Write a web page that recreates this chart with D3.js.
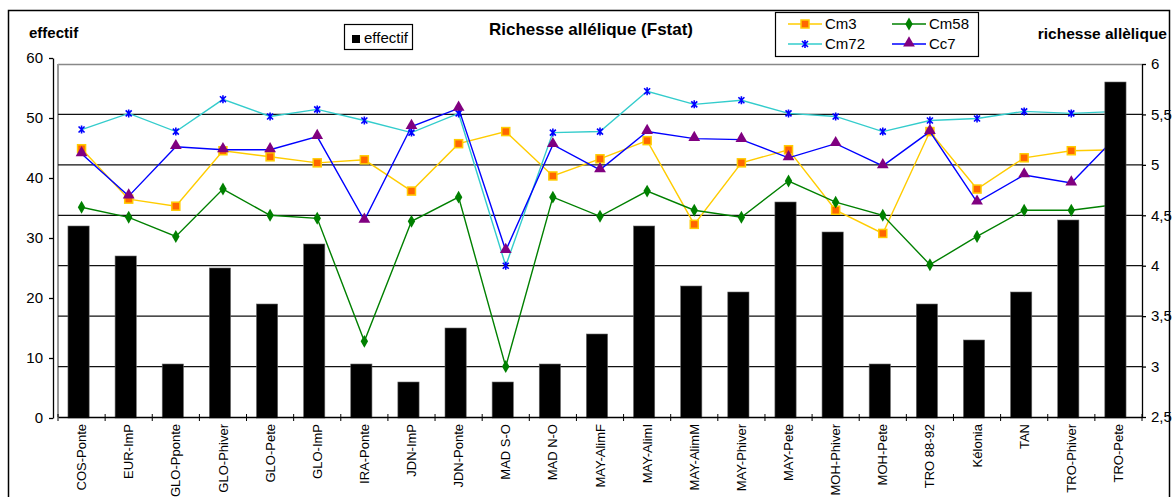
<!DOCTYPE html>
<html>
<head>
<meta charset="utf-8">
<script src="https://cdn.jsdelivr.net/npm/d3@7"></script>
<style>
  body { margin: 0; background: #fff; }
  text { font-family: Arial, "Liberation Sans", sans-serif; }
</style>
</head>
<body>
<div id="container"></div>
<script>
var categories = ["COS-Ponte", "EUR-ImP", "GLO-Pponte", "GLO-Phiver", "GLO-Pete", "GLO-ImP", "IRA-Ponte",
  "JDN-ImP", "JDN-Ponte", "MAD S-O", "MAD N-O", "MAY-AlimF", "MAY-AlimI", "MAY-AlimM", "MAY-Phiver",
  "MAY-Pete", "MOH-Phiver", "MOH-Pete", "TRO 88-92", "Kélonia", "TAN", "TRO-Phiver", "TRO-Pete"];
var effectif = [32, 27, 9, 25, 19, 29, 9, 6, 15, 6, 9, 14, 32, 22, 21, 36, 31, 9, 19, 13, 21, 33, 56];
var cm3  = [5.16, 4.66, 4.59, 5.14, 5.08, 5.02, 5.05, 4.74, 5.21, 5.33, 4.89, 5.06, 5.24, 4.41, 5.02, 5.15, 4.55, 4.32, 5.33, 4.76, 5.07, 5.14, 5.15];
var cm58 = [4.58, 4.48, 4.29, 4.76, 4.50, 4.47, 3.25, 4.44, 4.68, 3.00, 4.68, 4.49, 4.74, 4.55, 4.48, 4.84, 4.63, 4.50, 4.01, 4.29, 4.55, 4.55, 4.61];
var cm72 = [5.35, 5.51, 5.33, 5.65, 5.48, 5.55, 5.44, 5.32, 5.51, 4.00, 5.32, 5.33, 5.73, 5.60, 5.64, 5.51, 5.48, 5.33, 5.44, 5.46, 5.53, 5.51, 5.53];
var cc7  = [5.11, 4.69, 5.18, 5.15, 5.15, 5.28, 4.45, 5.38, 5.56, 4.15, 5.20, 4.95, 5.33, 5.26, 5.25, 5.07, 5.21, 4.99, 5.33, 4.63, 4.90, 4.82, 5.30];
var leftTicks = [0, 10, 20, 30, 40, 50, 60];
var rightTicks = [2.5, 3, 3.5, 4, 4.5, 5, 5.5, 6];

var width = 1173;
var height = 497;
var svg = d3.select("#container").append("svg");
svg.attr("width", width).attr("height", height);

var x = d3.scaleBand().domain(categories).range([58, 1142]);
var yLeft = d3.scaleLinear().domain([0, 60]).range([418, 58]);
var yRight = d3.scaleLinear().domain([2.5, 6]).range([417, 64]);

// plot area border (grey) and grid lines
svg.append("line").attr("x1", 58).attr("x2", 1142).attr("y1", 64.5).attr("y2", 64.5)
  .attr("stroke", "#888").attr("stroke-width", 1.5);
svg.append("line").attr("x1", 58).attr("x2", 58).attr("y1", 64).attr("y2", 417)
  .attr("stroke", "#999").attr("stroke-width", 2);

svg.append("g").selectAll("line")
  .data(rightTicks.filter(function(d) { return d > 2.5 && d < 6; }))
  .enter().append("line")
  .attr("x1", 58).attr("x2", 1142)
  .attr("y1", function(d) { return yRight(d); })
  .attr("y2", function(d) { return yRight(d); })
  .attr("stroke", "#111").attr("stroke-width", 1.2);

// series lines
var series = [
  {name: "Cm3", values: cm3, line: "#FFCC00", marker: "square"},
  {name: "Cm58", values: cm58, line: "#008000", marker: "diamond"},
  {name: "Cm72", values: cm72, line: "#33CCCC", marker: "star"},
  {name: "Cc7", values: cc7, line: "#0000FF", marker: "triangle"}
];

function cx(i) {
  return x(categories[i]) + x.bandwidth() / 2;
}

function drawMarker(g, type) {
  if (type == "square") {
    g.append("rect").attr("x", -4).attr("y", -4).attr("width", 8).attr("height", 8)
      .attr("fill", "#FF6600").attr("stroke", "#FFCC00").attr("stroke-width", 1.5);
  } else if (type == "diamond") {
    g.append("path").attr("d", d3.symbol().type(d3.symbolDiamond).size(48))
      .attr("fill", "#008000");
  } else if (type == "star") {
    g.append("path").attr("d", "M-3,-3L3,3M-3,3L3,-3M0,-4V4")
      .attr("stroke", "#0000FF").attr("stroke-width", 1.6).attr("fill", "none");
  } else {
    g.append("path").attr("d", d3.symbol().type(d3.symbolTriangle).size(60))
      .attr("transform", "translate(0,-1)")
      .attr("fill", "#800080");
  }
}

var line = d3.line()
  .x(function(d, i) { return cx(i); })
  .y(function(d) { return yRight(d); });

series.forEach(function(s) {
  svg.append("path")
    .datum(s.values)
    .attr("d", line)
    .attr("fill", "none")
    .attr("stroke", s.line)
    .attr("stroke-width", 1.4);
  svg.append("g").selectAll("g")
    .data(s.values).enter().append("g")
    .attr("transform", function(d, i) { return "translate(" + cx(i) + "," + yRight(d) + ")"; })
    .each(function() { drawMarker(d3.select(this), s.marker); });
});

// bars (effectif, left axis) drawn over the lines
var barW = x.bandwidth() * 0.45;
svg.append("g").selectAll("rect")
  .data(effectif).enter().append("rect")
  .attr("x", function(d, i) { return cx(i) - barW / 2 - 3; })
  .attr("y", function(d) { return yLeft(d); })
  .attr("width", barW)
  .attr("height", function(d) { return yLeft(0) - yLeft(d); })
  .attr("fill", "#000")
  .attr("stroke", "#666")
  .attr("stroke-width", 0.6);

// left axis
var leftAxis = svg.append("g")
  .attr("transform", "translate(53,0)")
  .call(d3.axisLeft(yLeft).tickValues(leftTicks).tickSize(4).tickSizeOuter(0).tickPadding(6));
leftAxis.selectAll("text").attr("font-size", 15).attr("fill", "#000");
leftAxis.selectAll("line, path").attr("stroke", "#000").attr("stroke-width", 1.3);

// right axis
var rightAxis = svg.append("g")
  .attr("transform", "translate(1142,0)")
  .call(d3.axisRight(yRight).tickValues(rightTicks).tickSize(4).tickSizeOuter(0).tickPadding(5)
    .tickFormat(function(d) { return String(d).replace(".", ","); }));
rightAxis.selectAll("text").attr("font-size", 15).attr("fill", "#000");
rightAxis.selectAll("line, path").attr("stroke", "#000").attr("stroke-width", 1.3);

// bottom axis with ticks between categories
var bottomAxis = svg.append("g")
  .attr("transform", "translate(0,417)")
  .call(d3.axisBottom(x).tickSize(0).tickSizeOuter(0));
bottomAxis.select(".domain").attr("stroke", "#000").attr("stroke-width", 1.3);
bottomAxis.selectAll("text")
  .attr("font-size", 13)
  .attr("fill", "#000")
  .attr("text-anchor", "end")
  .attr("transform", "rotate(-90)")
  .attr("x", -7)
  .attr("y", 0)
  .attr("dy", "0.35em");

svg.append("g").selectAll("line")
  .data(categories.concat(["end"])).enter().append("line")
  .attr("x1", function(d, i) { return 58 + i * x.step(); })
  .attr("x2", function(d, i) { return 58 + i * x.step(); })
  .attr("y1", 414).attr("y2", 421)
  .attr("stroke", "#000").attr("stroke-width", 1);

// titles
svg.append("text").attr("x", 591).attr("y", 35).attr("text-anchor", "middle")
  .attr("font-size", 17).attr("font-weight", "bold").text("Richesse allélique (Fstat)");
svg.append("text").attr("x", 29).attr("y", 38)
  .attr("font-size", 15).attr("font-weight", "bold").text("effectif");
svg.append("text").attr("x", 1167).attr("y", 39).attr("text-anchor", "end")
  .attr("font-size", 15.5).attr("font-weight", "bold").text("richesse allèlique");

// legend: effectif
svg.append("rect").attr("x", 344.5).attr("y", 24.5).attr("width", 68).attr("height", 25)
  .attr("fill", "#fff").attr("stroke", "#000").attr("stroke-width", 1.2);
svg.append("rect").attr("x", 352).attr("y", 35).attr("width", 8).attr("height", 8).attr("fill", "#000");
svg.append("text").attr("x", 364).attr("y", 43).attr("font-size", 15).text("effectif");

// legend: series
svg.append("rect").attr("x", 775.5).attr("y", 12.5).attr("width", 203).attr("height", 44)
  .attr("fill", "#fff").attr("stroke", "#000").attr("stroke-width", 1.2);
var legendPos = [[788, 24], [892, 24], [788, 44], [892, 44]];
series.forEach(function(s, i) {
  var p = legendPos[i];
  svg.append("line").attr("x1", p[0]).attr("x2", p[0] + 34).attr("y1", p[1]).attr("y2", p[1])
    .attr("stroke", s.line).attr("stroke-width", 1.6);
  var g = svg.append("g").attr("transform", "translate(" + (p[0] + 17) + "," + p[1] + ")");
  drawMarker(g, s.marker);
  svg.append("text").attr("x", p[0] + 37).attr("y", p[1] + 5).attr("font-size", 15).text(s.name);
});

// outer chart border
svg.append("rect").attr("x", 8.5).attr("y", 10.5).attr("width", 1161).attr("height", 500)
  .attr("fill", "none").attr("stroke", "#000").attr("stroke-width", 1.5);
</script>
</body>
</html>
